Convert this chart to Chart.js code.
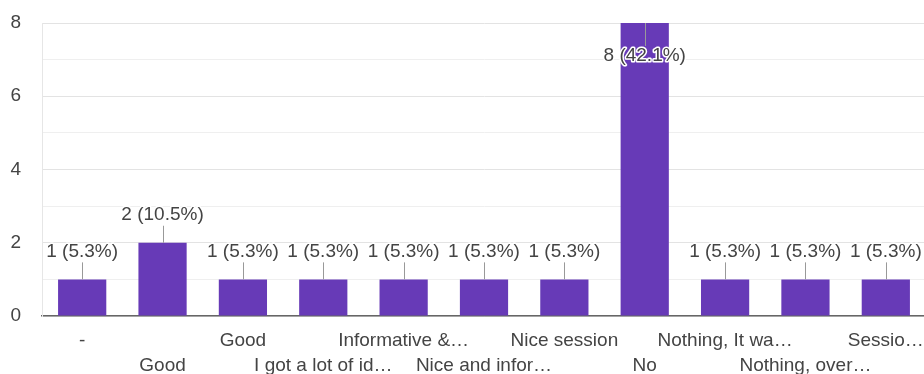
<!DOCTYPE html>
<html>
<head>
<meta charset="utf-8">
<script src="https://cdn.jsdelivr.net/npm/chart.js@4"></script>
<style>
  html, body { margin: 0; padding: 0; background: #fff; overflow: hidden; }
  #wrap { position: absolute; left: 0; top: 0; width: 926px; height: 374px; }
</style>
</head>
<body>
<div id="wrap"><canvas id="c"></canvas></div>
<script>
// ---- data ----
const categories = ["-", "Good", "Good", "I got a lot of id\u2026", "Informative &\u2026", "Nice and infor\u2026", "Nice session", "No", "Nothing, It wa\u2026", "Nothing, over\u2026", "Sessio\u2026"];
const counts = [1, 2, 1, 1, 1, 1, 1, 8, 1, 1, 1];
const percentLabels = ["5.3", "10.5", "5.3", "5.3", "5.3", "5.3", "5.3", "42.1", "5.3", "5.3", "5.3"];
const yTicks = [0, 2, 4, 6, 8];

const FONT = "'Liberation Sans', Arial, sans-serif";
const TEXT = '#444';

// x labels alternate between two rows
const xLabels = categories.map((c, i) => i % 2 === 0 ? [c, ''] : ['', c]);

const annotationPlugin = {
  id: 'annot',
  afterDatasetsDraw(chart) {
    const ctx = chart.ctx;
    const meta = chart.getDatasetMeta(0);
    ctx.save();
    ctx.font = '19px ' + FONT;
    ctx.textAlign = 'center';
    ctx.textBaseline = 'middle';
    meta.data.forEach((bar, i) => {
      const x = bar.x, top = bar.y;
      const label = counts[i] + ' (' + percentLabels[i] + '%)';
      let ty, s1, s2;
      if (top - 38 < 0) {
        ty = top + 33; s1 = top; s2 = top + 23;
      } else {
        ty = top - 28; s1 = top; s2 = top - 17;
      }
      ctx.strokeStyle = '#999';
      ctx.lineWidth = 1;
      ctx.beginPath();
      ctx.moveTo(Math.round(x) + 0.5, s1);
      ctx.lineTo(Math.round(x) + 0.5, s2);
      ctx.stroke();
      ctx.lineJoin = 'round';
      ctx.strokeStyle = '#fff';
      ctx.lineWidth = 3;
      ctx.strokeText(label, x, ty);
      ctx.fillStyle = TEXT;
      ctx.fillText(label, x, ty);
    });
    ctx.restore();
  }
};

new Chart(document.getElementById('c'), {
  type: 'bar',
  data: {
    labels: xLabels,
    datasets: [{
      data: counts,
      backgroundColor: '#673ab7',
      borderWidth: 0,
      categoryPercentage: 1,
      barPercentage: 0.6
    }]
  },
  options: {
    responsive: true,
    maintainAspectRatio: false,
    animation: false,
    layout: { padding: { top: 23, left: 0, right: 0, bottom: 0 } },
    plugins: { legend: { display: false }, tooltip: { enabled: false } },
    scales: {
      x: {
        grid: { display: false, drawTicks: false },
        border: { display: true, color: '#666', width: 1.5 },
        ticks: {
          autoSkip: false, maxRotation: 0, minRotation: 0,
          padding: 12, color: TEXT,
          font: { family: FONT, size: 19, lineHeight: 25 / 19 }
        },
        afterFit(scale) {
          scale.height = 58;
          scale.paddingLeft = 0; scale.paddingRight = 0;
        }
      },
      y: {
        min: 0, max: 8,
        afterBuildTicks(scale) {
          const t = [];
          for (let v = 0; v <= 8; v++) t.push({ value: v });
          scale.ticks = t;
        },
        ticks: {
          color: TEXT, padding: 21,
          font: { family: FONT, size: 19 },
          callback: (v) => yTicks.includes(v) ? String(v) : ''
        },
        grid: {
          drawTicks: false,
          color: (c) => (c.tick && c.tick.value % 2 === 0) ? '#e3e3e3' : '#efefef',
          lineWidth: 1
        },
        border: { display: true, color: '#e6e6e6' },
        afterFit(scale) {
          scale.width = 42;
          scale.paddingTop = 0; scale.paddingBottom = 0;
        }
      }
    }
  },
  plugins: [annotationPlugin]
});
</script>
</body>
</html>
